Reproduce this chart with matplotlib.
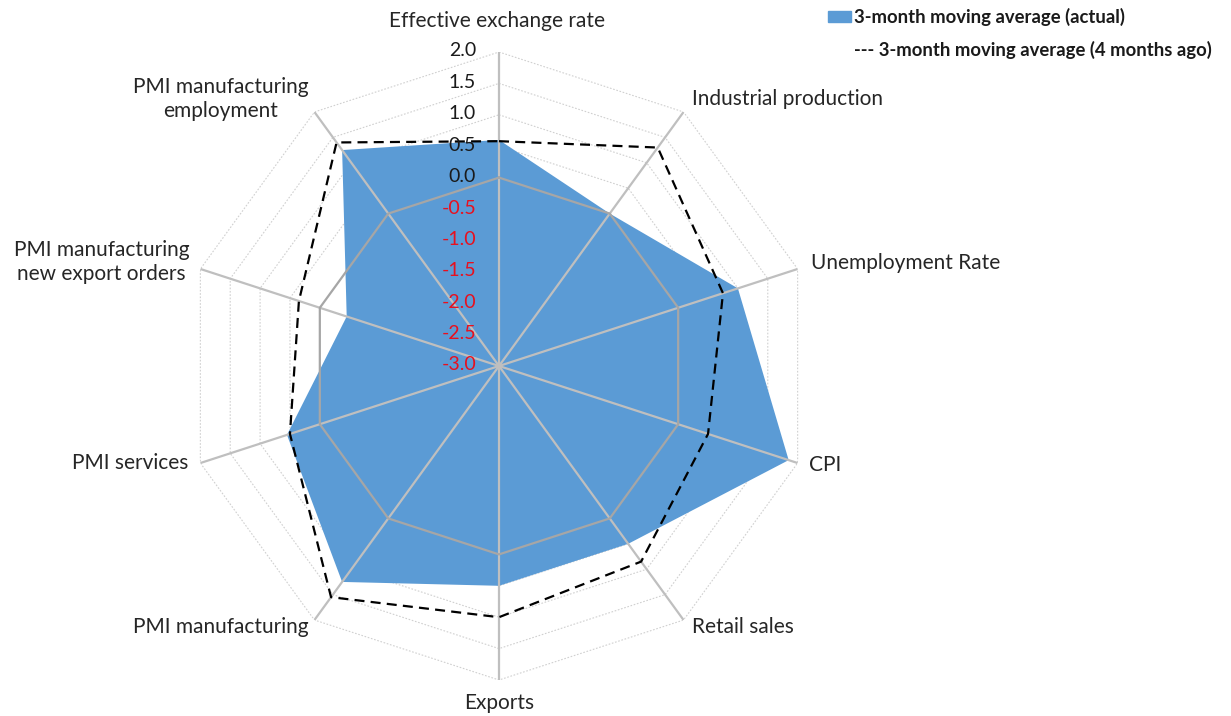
import numpy as np
import matplotlib
matplotlib.use("Agg")
import matplotlib.pyplot as plt
from matplotlib.patches import Rectangle

plt.rcParams['font.family'] = ['Lato', 'DejaVu Sans']

categories = ["Effective exchange rate", "Industrial production", "Unemployment Rate",
              "CPI", "Retail sales", "Exports", "PMI manufacturing", "PMI services",
              "PMI manufacturing\nnew export orders", "PMI manufacturing\nemployment"]
actual = [0.6, 0.0, 1.0, 1.85, 0.5, 0.5, 1.25, 0.55, -0.45, 1.25]
four_months_ago = [0.58, 1.3, 0.75, 0.5, 0.85, 1.0, 1.55, 0.5, 0.35, 1.4]
tick_values = [2.0, 1.5, 1.0, 0.5, 0.0, -0.5, -1.0, -1.5, -2.0, -2.5, -3.0]
legend_labels = ["3-month moving average (actual)", "--- 3-month moving average (4 months ago)"]

# label placement: (offset px x, offset px y, ha)
label_pos = [(-2, 31, 'center'), (8, 13, 'left'), (13, 6, 'left'), (11, -2, 'left'),
             (8, -7, 'left'), (0, -23, 'center'), (-6, -7, 'right'), (-12, 0, 'right'),
             (-11, 7, 'right'), (-6, 13, 'right')]

W, H = 1231, 716
fig = plt.figure(figsize=(W / 100, H / 100), dpi=100)
cx, cy, R = 499, 366, 314
ax = fig.add_axes([(cx - R) / W, (H - cy - R) / H, 2 * R / W, 2 * R / H], projection='polar')
ax.set_theta_zero_location('N')
ax.set_theta_direction(-1)
ax.set_ylim(-3, 2)
ax.grid(False)
ax.set_xticks([])
ax.set_yticks([])
ax.spines['polar'].set_visible(False)
ax.patch.set_alpha(0)

n = len(categories)
theta = np.arange(n) * 2 * np.pi / n
tc = np.append(theta, theta[0])

# dotted grid polygons
for v in tick_values[:-1]:
    if v == 0.0:
        continue
    ax.plot(tc, [v] * (n + 1), color='#d0d0d0', lw=0.8, ls=(0, (1.5, 1.5)), zorder=1)

# filled actual series
ax.fill(tc, actual + actual[:1], color='#5B9BD5', lw=0, zorder=2)

# spokes
for t in theta:
    ax.plot([t, t], [-3, 2], color='#bfbfbf', lw=1.6, zorder=3, solid_capstyle='butt')

# zero polygon
ax.plot(tc, [0.0] * (n + 1), color='#a6a6a6', lw=1.6, zorder=4)

# dashed series
ax.plot(tc, four_months_ago + four_months_ago[:1], color='black', lw=1.6,
        ls=(0, (4.5, 2.8)), zorder=5)

# tick labels
for v in tick_values:
    ax.annotate(f"{v:.1f}", xy=(0, v), xytext=(-23, 1), textcoords='offset pixels',
                ha='right', va='center', fontsize=14,
                color='#e8101e' if v < 0 else '#1a1a1a', zorder=6)

# category labels
for t, lab, (dx, dy, ha) in zip(theta, categories, label_pos):
    ax.annotate(lab, xy=(t, 2.0), xytext=(dx, dy), textcoords='offset pixels',
                ha=ha, va='center', fontsize=15, color='#262626',
                multialignment='center', annotation_clip=False)

# legend
fig.patches.append(Rectangle((828 / W, 1 - 22 / H), 23 / W, 11 / H,
                             transform=fig.transFigure, color='#5B9BD5', figure=fig))
fig.text(854 / W, 1 - 17 / H, legend_labels[0], ha='left', va='center',
         fontsize=13.3, fontweight='bold', color='#1a1a1a')
fig.text(854 / W, 1 - 50 / H, legend_labels[1], ha='left', va='center',
         fontsize=13.3, fontweight='bold', color='#1a1a1a')

fig.savefig('out.png', dpi=100)
